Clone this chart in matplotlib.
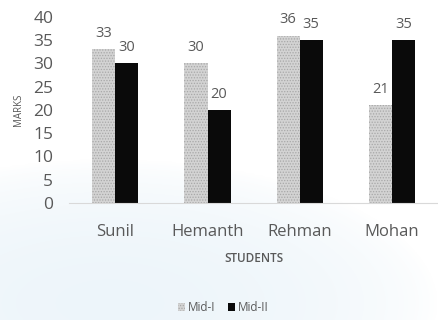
import numpy as np
import matplotlib
matplotlib.use("Agg")
import matplotlib.pyplot as plt

students = ["Sunil", "Hemanth", "Rehman", "Mohan"]
mid1 = [33, 30, 36, 21]
mid2 = [30, 20, 35, 35]

grey = "#595959"
plt.rcParams["font.family"] = ["Open Sans", "DejaVu Sans"]
plt.rcParams["hatch.color"] = "#9a9a9a"
plt.rcParams["hatch.linewidth"] = 0.6

fig = plt.figure(figsize=(4.38, 3.2), dpi=100)

# faint blue swoosh behind the chart
bg = fig.add_axes([0, 0, 1, 1], zorder=-1)
bg.axis("off")
gx, gy = np.meshgrid(np.linspace(0, 1, 220), np.linspace(0, 1, 160))
d = ((gx - 0.25) / 0.75) ** 2 + ((gy - 0.05) / 0.45) ** 2
a = np.clip(1.0 - d, 0, 1) ** 0.7 * 0.6
rgba = np.zeros(gx.shape + (4,))
rgba[..., 0], rgba[..., 1], rgba[..., 2] = 0.89, 0.94, 0.97
rgba[..., 3] = a
bg.imshow(rgba, extent=(0, 1, 0, 1), origin="lower", aspect="auto", interpolation="bilinear")
bg.set_xlim(0, 1)
bg.set_ylim(0, 1)

ax = fig.add_axes([0.158, 0.366, 0.842, 0.581])
ax.patch.set_alpha(0)

x = np.arange(len(students))
w = 0.25
b1 = ax.bar(x - w / 2, mid1, w, color="#d3d3d3", hatch="......", edgecolor="#a8a8a8",
            linewidth=0, label="Mid-I")
b2 = ax.bar(x + w / 2, mid2, w, color="#0a0a0a", linewidth=0, label="Mid-II")

for bars in (b1, b2):
    for r in bars:
        ax.annotate(str(int(r.get_height())), (r.get_x() + r.get_width() / 2, r.get_height()),
                    xytext=(0, 6), textcoords="offset points",
                    ha="center", va="bottom", fontsize=10.5, color=grey)

ax.set_xlim(-0.5, 3.5)
ax.set_ylim(0, 40)
ax.set_yticks(range(0, 41, 5))
ax.set_xticks(x)
ax.set_xticklabels(students)
ax.tick_params(axis="both", length=0, colors=grey)
ax.tick_params(axis="y", labelsize=12.5, pad=11.5)
ax.tick_params(axis="x", labelsize=12, pad=15)
for s in ["top", "right", "left"]:
    ax.spines[s].set_visible(False)
ax.spines["bottom"].set_color("#d9d9d9")

ax.set_ylabel("MARKS", fontsize=7, color=grey, labelpad=7)
ax.set_xlabel("STUDENTS", fontsize=8.5, color=grey, labelpad=8.5, fontweight="semibold")

fig.legend(handles=[b1, b2], loc="center", bbox_to_anchor=(0.51, 0.038), ncol=2,
           frameon=False, fontsize=8.5, labelcolor=grey, handlelength=0.6,
           handleheight=0.6, handletextpad=0.3, columnspacing=1.0)

fig.savefig("out.png", dpi=100)
